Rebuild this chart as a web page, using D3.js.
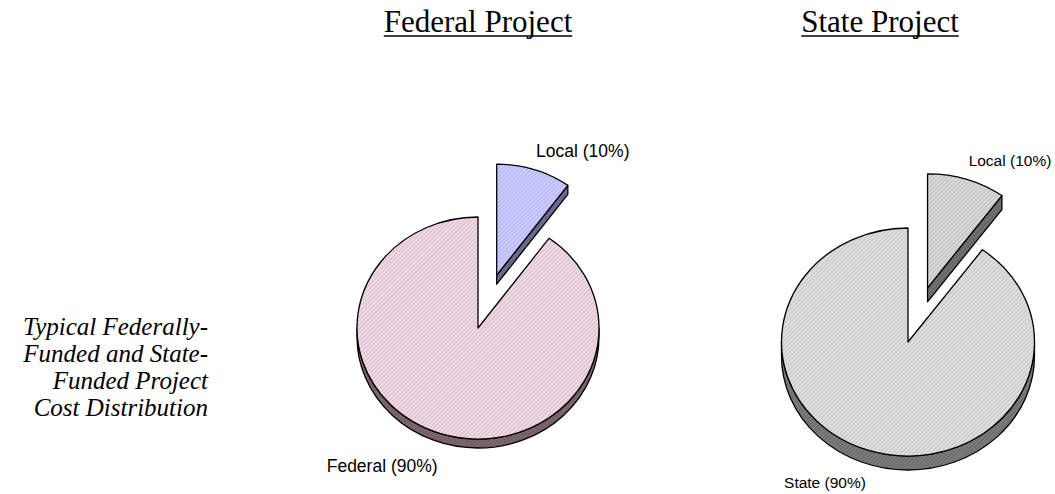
<!DOCTYPE html>
<html>
<head>
<meta charset="utf-8">
<script src="https://cdn.jsdelivr.net/npm/d3@7"></script>
<style>
  html, body { margin: 0; padding: 0; background: #fff; }
  svg { display: block; }
</style>
</head>
<body>
<div id="chart"></div>
<script>
(function() {
    /********************************************
     * DATA
     ********************************************/
    const titles = ["Federal Project", "State Project"];
    const federalCats = ["Local", "Federal"];
    const federalVals = [10, 90];
    const stateCats = ["Local", "State"];
    const stateVals = [10, 90];
    const sideNote = ["Typical Federally-", "Funded and State-", "Funded Project", "Cost Distribution"];

    /********************************************
     * LAYOUT
     ********************************************/
    const width = 1055;
    const height = 494;

    const svg = d3.select("#chart").append("svg")
        .attr("width", width)
        .attr("height", height);
    svg.append("rect").attr("width", width).attr("height", height).attr("fill", "#fff");
    const defs = svg.append("defs");

    // hatch fills
    function hatch(id, base, line) {
        const p = defs.append("pattern")
            .attr("id", id)
            .attr("width", 3)
            .attr("height", 3)
            .attr("patternUnits", "userSpaceOnUse")
            .attr("patternTransform", "rotate(45)");
        p.append("rect").attr("width", 3).attr("height", 3).attr("fill", base);
        p.append("line").attr("x1", 0.5).attr("y1", 0).attr("x2", 0.5).attr("y2", 3)
            .attr("stroke", line).attr("stroke-width", 1);
        return `url(#${id})`;
    }

    const pies = [
        {
            title: titles[0], titleX: 478,
            cats: federalCats, vals: federalVals,
            cx: 478, cy: 328, rx: 121, ry: 111, depth: 9,
            labelSize: 17.5,
            top: [hatch("fLocTop", "#CCCCFF", "#B4B4F2"), hatch("fFedTop", "#EFD9E5", "#DCBCCC")],
            side: [hatch("fLocSide", "#6C6C94", "#5E5E86"), hatch("fFedSide", "#7E6670", "#6E5862")]
        },
        {
            title: titles[1], titleX: 880,
            cats: stateCats, vals: stateVals,
            cx: 908, cy: 342, rx: 126.5, ry: 114, depth: 14,
            labelSize: 15.5,
            top: [hatch("sLocTop", "#D8D8D8", "#C0C0C0"), hatch("sStTop", "#DEDEDE", "#C6C6C6")],
            side: [hatch("sLocSide", "#707070", "#626262"), hatch("sStSide", "#7A7A7A", "#6A6A6A")]
        }
    ];

    const explode = 0.5;
    const pie = d3.pie().sort(null).startAngle(0).endAngle(2 * Math.PI);

    pies.forEach(cfg => {
        const g = svg.append("g");
        const arcs = pie(cfg.vals);

        const pt = (a, ox, oy, dy = 0) => [ox + cfg.rx * Math.sin(a), oy - cfg.ry * Math.cos(a) + dy];

        // the small slice is pulled out, so draw it first (it sits behind)
        arcs.forEach((d, i) => {
            const mid = (d.startAngle + d.endAngle) / 2;
            const e = d.value / d3.sum(cfg.vals) < 0.5 ? explode : 0;
            const ox = cfg.cx + e * cfg.rx * Math.sin(mid);
            const oy = cfg.cy - e * cfg.ry * Math.cos(mid);
            const a0 = d.startAngle, a1 = d.endAngle;
            const large = (a1 - a0) > Math.PI ? 1 : 0;
            const dep = cfg.depth;

            // radial walls that face down
            const walls = [];
            [[a1, 1], [a0, -1]].forEach(([a, s]) => {
                const ny = s * Math.sin(a);
                if (ny > 0.01) walls.push(a);
            });
            walls.forEach(a => {
                const p = pt(a, ox, oy);
                g.append("path")
                    .attr("d", `M${ox},${oy}L${p[0]},${p[1]}L${p[0]},${p[1] + dep}L${ox},${oy + dep}Z`)
                    .attr("fill", cfg.side[i])
                    .attr("stroke", "#000").attr("stroke-width", 1.3).attr("stroke-linejoin", "round");
            });

            // outer curved wall, front half only
            const s = Math.max(a0, Math.PI / 2), t = Math.min(a1, 3 * Math.PI / 2);
            if (t > s) {
                const p0 = pt(s, ox, oy), p1 = pt(t, ox, oy);
                const lg = (t - s) > Math.PI ? 1 : 0;
                g.append("path")
                    .attr("d", `M${p0[0]},${p0[1]}A${cfg.rx},${cfg.ry} 0 ${lg} 1 ${p1[0]},${p1[1]}` +
                               `L${p1[0]},${p1[1] + dep}A${cfg.rx},${cfg.ry} 0 ${lg} 0 ${p0[0]},${p0[1] + dep}Z`)
                    .attr("fill", cfg.side[i])
                    .attr("stroke", "#000").attr("stroke-width", 1.3).attr("stroke-linejoin", "round");
            }

            // top face
            const q0 = pt(a0, ox, oy), q1 = pt(a1 - 1e-6, ox, oy);
            g.append("path")
                .attr("d", `M${ox},${oy}L${q0[0]},${q0[1]}A${cfg.rx},${cfg.ry} 0 ${large} 1 ${q1[0]},${q1[1]}Z`)
                .attr("fill", cfg.top[i])
                .attr("stroke", "#000").attr("stroke-width", 1.3).attr("stroke-linejoin", "round");

            // slice label
            const lp = pt(mid, ox, oy);
            const onRight = Math.sin(mid) > 0;
            g.append("text")
                .attr("x", lp[0] + (onRight ? 2 : -3))
                .attr("y", lp[1] + (Math.cos(mid) > 0 ? -13 : 38))
                .attr("text-anchor", onRight ? "start" : "end")
                .attr("font-family", "Arial, 'Liberation Sans', sans-serif")
                .attr("font-size", cfg.labelSize)
                .attr("fill", "#000")
                .text(`${cfg.cats[i]} (${d.value}%)`);
        });

        // underlined title
        const tt = svg.append("text")
            .attr("x", cfg.titleX)
            .attr("y", 32)
            .attr("text-anchor", "middle")
            .attr("font-family", "'Times New Roman', 'Liberation Serif', serif")
            .attr("font-size", 31)
            .attr("fill", "#000")
            .text(cfg.title);
        const w = tt.node().getComputedTextLength();
        svg.append("line")
            .attr("x1", cfg.titleX - w / 2).attr("x2", cfg.titleX + w / 2)
            .attr("y1", 36).attr("y2", 36)
            .attr("stroke", "#000").attr("stroke-width", 1.6);
    });

    // side note
    svg.append("g")
        .selectAll("text")
        .data(sideNote)
        .join("text")
        .attr("x", 208)
        .attr("y", (d, i) => 335 + i * 27)
        .attr("text-anchor", "end")
        .attr("font-family", "'Times New Roman', 'Liberation Serif', serif")
        .attr("font-style", "italic")
        .attr("font-size", 25)
        .attr("fill", "#000")
        .text(d => d);
})();
</script>
</body>
</html>
